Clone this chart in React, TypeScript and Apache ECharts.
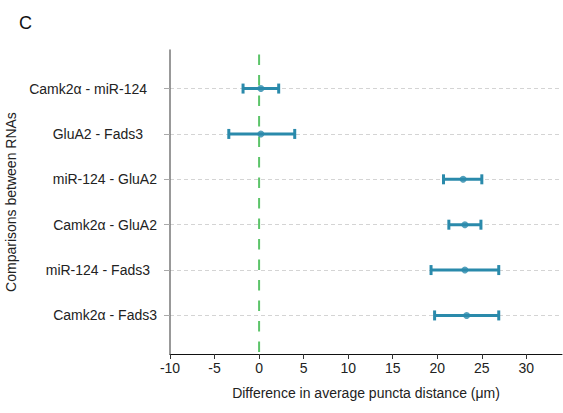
import React, { useEffect, useRef } from "react";
import * as echarts from "echarts";

const categories = [
  "Camk2α - miR-124",
  "GluA2 - Fads3",
  "miR-124 - GluA2",
  "Camk2α - GluA2",
  "miR-124 - Fads3",
  "Camk2α - Fads3",
];
const means = [0.2, 0.2, 22.9, 23.1, 23.1, 23.3];
const lowers = [-1.8, -3.4, 20.7, 21.3, 19.3, 19.7];
const uppers = [2.2, 4.0, 25.0, 24.9, 26.9, 26.9];
const xTicks = [-10, -5, 0, 5, 10, 15, 20, 25, 30];
const refLineX = 0;
const yMin = 0.15;
const yMax = 6.85;

const positions = categories.map((_, i) => i + 1);
const BLUE = "#2a8aab";
const labelPad = [10, 14, 0, 0, 7, 0];

export default function App() {
  const ref = useRef<HTMLDivElement>(null);
  useEffect(() => {
    const chart = echarts.init(ref.current!, null, { renderer: "svg" });
    const font = "Liberation Sans, Arial, sans-serif";
    const rich: any = {};
    labelPad.forEach((p, i) => {
      rich["p" + i] = { fontSize: 14, color: "#222", fontFamily: font, padding: [0, p, 0, 0] };
    });
    chart.setOption({
      animation: false,
      textStyle: { fontFamily: font },
      title: {
        text: "C",
        left: 14,
        top: 9,
        textStyle: { fontSize: 18, fontWeight: "normal", color: "#111", fontFamily: font },
      },
      grid: { left: 170, top: 50, right: 1, bottom: 59, containLabel: false, outerBoundsMode: "none" },
      xAxis: {
        type: "value",
        min: -10,
        max: 34,
        interval: 5,
        axisLine: { show: true, lineStyle: { color: "#111", width: 1 } },
        axisTick: { show: true, length: 5, lineStyle: { color: "#333" }, customValues: xTicks },
        axisLabel: {
          customValues: xTicks,
          fontSize: 14,
          color: "#222",
          margin: 7,
          fontFamily: font,
        },
        splitLine: { show: false },
        name: "Difference in average puncta distance (μm)",
        nameLocation: "middle",
        nameGap: 32,
        nameTextStyle: { fontSize: 14, color: "#222", fontFamily: font },
      },
      yAxis: {
        type: "value",
        min: yMin,
        max: yMax,
        inverse: true,
        axisLine: { show: true, onZero: false, lineStyle: { color: "#777", width: 1.5 } },
        axisTick: { show: true, length: 6, lineStyle: { color: "#aaa" }, customValues: positions },
        axisLabel: {
          customValues: positions,
          formatter: (v: number) => {
            const i = Math.round(v) - 1;
            return categories[i] ? "{p" + i + "|" + categories[i] + "}" : "";
          },
          rich,
          fontSize: 14,
          color: "#222",
          margin: 13,
          fontFamily: font,
        },
        splitLine: {
          show: true,
          lineStyle: { color: "#d4d4d4", type: [4, 3], width: 1 },
        },
        name: "Comparisons between RNAs",
        nameLocation: "middle",
        nameGap: 145,
        nameTextStyle: { fontSize: 14, color: "#222", fontFamily: font },
      },
      series: [
        {
          type: "custom",
          silent: true,
          data: [[refLineX, yMin, yMax]],
          encode: { x: 0, y: [1, 2] },
          renderItem: (params: any, api: any) => {
            const a = api.coord([api.value(0), api.value(1)]);
            const b = api.coord([api.value(0), api.value(2)]);
            return {
              type: "line",
              shape: { x1: a[0], y1: a[1], x2: b[0], y2: b[1] },
              style: { stroke: "#5cc46a", lineWidth: 2, lineDash: [10.5, 10], lineDashOffset: 15.5, fill: null },
            };
          },
          z: 2,
        },
        {
          type: "custom",
          data: positions.map((p, i) => [p, lowers[i], uppers[i]]),
          encode: { x: [1, 2], y: 0 },
          renderItem: (params: any, api: any) => {
            const y = api.value(0);
            const a = api.coord([api.value(1), y]);
            const b = api.coord([api.value(2), y]);
            const h = 5;
            const style = { stroke: BLUE, lineWidth: 3 };
            return {
              type: "group",
              children: [
                { type: "line", shape: { x1: a[0], y1: a[1], x2: b[0], y2: b[1] }, style },
                { type: "line", shape: { x1: a[0], y1: a[1] - h, x2: a[0], y2: a[1] + h }, style },
                { type: "line", shape: { x1: b[0], y1: b[1] - h, x2: b[0], y2: b[1] + h }, style },
              ],
            };
          },
          z: 3,
        },
        {
          type: "scatter",
          data: positions.map((p, i) => [means[i], p]),
          symbolSize: 7,
          itemStyle: { color: BLUE },
          z: 4,
        },
      ],
    });
    return () => chart.dispose();
  }, []);
  return <div ref={ref} style={{ width: 563, height: 413, position: "absolute", left: 0, top: 0 }} />;
}
